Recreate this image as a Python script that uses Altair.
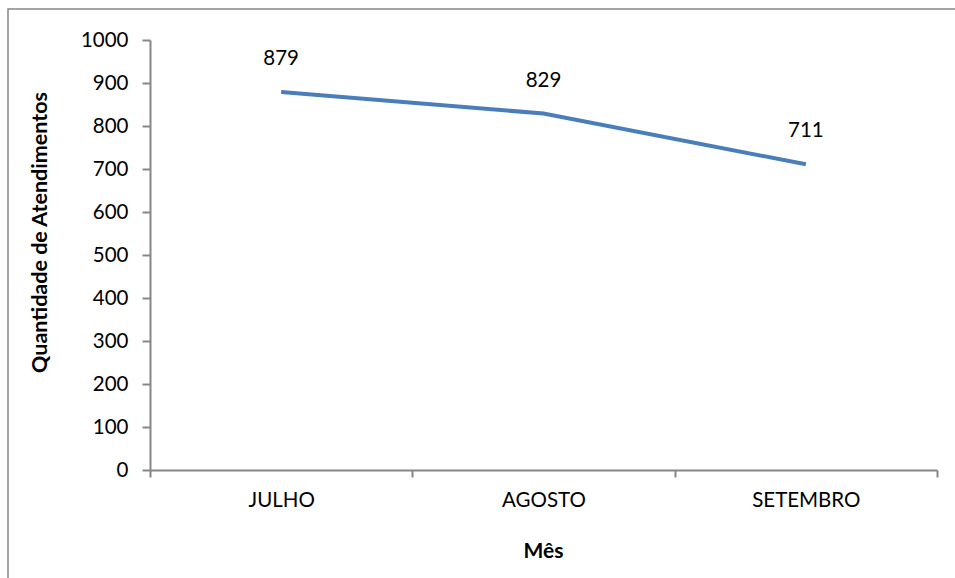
import altair as alt
import pandas as pd

meses = ["JULHO", "AGOSTO", "SETEMBRO"]
atendimentos = [879, 829, 711]

df = pd.DataFrame({"Mês": meses, "Atendimentos": atendimentos})

FONT = "Lato"
GRAY = "#868686"
BLUE = "#4a7ebb"
TXT = 20.5

x_enc = alt.X(
    "Mês:N",
    sort=meses,
    scale=alt.Scale(paddingInner=0, paddingOuter=0),
    axis=alt.Axis(
        title="Mês",
        labelAngle=0,
        labelFont=FONT,
        labelFontSize=TXT,
        labelColor="#000000",
        labelPadding=13,
        tickBand="extent",
        tickSize=7,
        tickColor=GRAY,
        tickWidth=2,
        domainColor=GRAY,
        domainWidth=2,
        titleFont=FONT,
        titleFontSize=21,
        titleFontWeight="bold",
        titleX=393,
        titleY=81,
        titleBaseline="middle",
        grid=False,
    ),
)

y_enc = alt.Y(
    "Atendimentos:Q",
    scale=alt.Scale(domain=[0, 1000]),
    axis=alt.Axis(
        title="Quantidade de Atendimentos",
        values=list(range(0, 1001, 100)),
        format="d",
        labelFont=FONT,
        labelFontSize=TXT,
        labelColor="#000000",
        labelPadding=14,
        tickSize=8,
        tickColor=GRAY,
        tickWidth=2,
        domainColor=GRAY,
        domainWidth=2,
        titleFont=FONT,
        titleFontSize=21.5,
        titleFontWeight="bold",
        titleX=-110,
        titleY=192,
        titleAngle=-90,
        titleBaseline="middle",
        titleAlign="center",
        grid=False,
    ),
)

base = alt.Chart(df)

# outer frame of the chart
frame = base.mark_rect(fill=None, stroke=GRAY, strokeWidth=1.5).encode(
    x=alt.value(-142), x2=alt.value(830), y=alt.value(-31), y2=alt.value(560)
).transform_filter(alt.datum["Mês"] == "JULHO")

line = base.mark_line(color=BLUE, strokeWidth=4).encode(x=x_enc, y=y_enc)

labels = base.mark_text(
    font=FONT, fontSize=TXT, color="#000000", dy=-33, baseline="middle"
).encode(x=alt.X("Mês:N", sort=meses), y="Atendimentos:Q", text="Atendimentos:Q")

chart = (
    alt.layer(frame, line, labels)
    .properties(
        width=787,
        height=430,
        autosize=alt.AutoSizeParams(type="none"),
        padding={"left": 150, "top": 40, "right": 18, "bottom": 108},
        background="white",
    )
    .configure_view(stroke=None)
)

chart.save("out.html", embed_options={"renderer": "svg", "actions": False})
